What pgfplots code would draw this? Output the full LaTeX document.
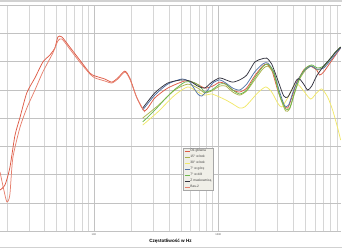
\documentclass[border=0pt]{standalone}
\usepackage{fontspec}
\setmainfont{Liberation Sans}
\usepackage{pgfplots}
\pgfplotsset{compat=1.18}
\definecolor{cRed}{HTML}{DE5A45}
\definecolor{cBas}{HTML}{E6806E}
\definecolor{cOlive}{HTML}{A9B24C}
\definecolor{cYel}{HTML}{F1E86A}
\definecolor{cBlue}{HTML}{5373A6}
\definecolor{cGreen}{HTML}{6DB84E}
\definecolor{cBlack}{HTML}{33333F}
\definecolor{legbg}{HTML}{F0EFE8}
\begin{document}
\begin{tikzpicture}
\begin{axis}[
  scale only axis, width=341pt, height=226pt,
  xmode=log, xmin=17.6, xmax=9700, ymin=0, ymax=80,
  ytick={0,10,...,80}, yticklabels={},
  xtick={100,1000,10000}, xticklabels={100,1000,10000},
  minor xtick={20,30,40,50,60,70,80,90,200,300,400,500,600,700,800,900,2000,3000,4000,5000,6000,7000,8000,9000},
  grid=both,
  major grid style={draw=black!24, line width=0.5pt},
  minor grid style={draw=black!16, line width=0.5pt},
  axis line style={draw=none}, tick style={draw=none},
  xticklabel style={font=\fontsize{2.6}{3}\selectfont, text=black!70, yshift=1pt},
  xlabel={\textbf{Częstotliwość w Hz}},
  xlabel style={font=\fontsize{4.6}{5}\selectfont, at={(axis description cs:0.5,0)}, anchor=center, yshift=-10pt},
  every axis plot/.append style={smooth, tension=0.4, line width=0.75pt, no marks},
  legend cell align=left,
  legend image code/.code={\draw[#1] (0pt,0pt) -- (5pt,0pt);},
  legend style={at={(0.537,0.367)}, anchor=north west, fill=legbg, draw=black!35, line width=0.4pt,
    font=\fontsize{3.3}{3.5}\selectfont, text=black!75, inner sep=0.8pt, row sep=1.9pt,
    nodes={inner sep=0.5pt, text height=2.4pt, text depth=0.7pt}},
]
% Os glowna
\addplot[cRed] coordinates {
(17.6,14.5) (19.3,16.3) (21.1,22.3) (23.2,33.8) (25.4,40.0) (28.9,48.9) (33.6,54.2) (38.9,59.8)
(44.3,62.3) (48.6,64.8) (51.4,68.7) (55.3,68.7) (64.1,65.1) (77.1,60.5) (92.9,55.9) (101.9,54.9)
(122.5,53.8) (139.4,52.7) (155.9,54.2) (177.4,56.6) (194.5,54.2) (222,47.1) (256.6,42.5)
(308.8,47.1) (392.8,50.6) (538,53.1) (647,52.4) (779,50.6) (903,51.3) (1027,52.7) (1148,52.0)
(1306,49.9) (1487,49.2) (1694,50.6) (1963,54.9) (2275,58.4) (2450,59.1) (2690,57.0) (3005,49.9)
(3357,44.6) (3614,43.5) (3892,47.1) (4267,52.7) (4511,54.5) (4859,57.0) (5430,58.4) (6181,57.0)
(6536,55.2) (7040,56.3) (8015,59.8) (8789,62.3) (9639,64.8)};
\addlegendentry{Oś główna}
% 15 w bok
\addplot[cOlive] coordinates {
(247,40.0) (326,44.3) (447,49.9) (569,52.0) (684,50.6) (779,48.9) (888,49.6) (1027,51.3) (1148,51.3)
(1306,49.2) (1487,48.1) (1694,49.6) (1963,53.5) (2275,57.3) (2496,58.4) (2790,55.6) (3117,47.8)
(3481,42.5) (3751,43.2) (4115,48.9) (4511,53.8) (5044,57.0) (5636,58.4) (6296,57.0) (7040,58.1)
(8015,61.2) (8789,63.4) (9639,65.1)};
\addlegendentry{15° w bok}
% 30 w bok
\addplot[cYel] coordinates {
(247,37.5) (326,42.1) (447,48.1) (569,51.0) (684,49.2) (779,48.1) (888,48.5) (1027,47.4) (1148,46.4)
(1306,45.0) (1487,43.5) (1632,43.9) (1790,45.7) (2075,48.9) (2405,51.0) (2690,49.2) (3005,45.3)
(3236,43.9) (3614,47.1) (4040,51.3) (4350,52.0) (4859,49.6) (5530,46.7) (6181,48.9) (6800,50.3)
(7574,47.4) (8308,42.8) (9114,36.5) (9639,32.2)};
\addlegendentry{30° w bok}
% 7 w gore
\addplot[cBlue] coordinates {
(247,42.8) (309,48.1) (393,52.0) (509,53.8) (590,52.7) (684,48.5) (737,47.8) (823,49.9) (903,52.4)
(1027,53.5) (1148,52.4) (1306,50.6) (1487,49.9) (1694,52.0) (1963,56.3) (2275,59.1) (2496,59.5)
(2790,56.3) (3117,49.2) (3420,44.3) (3682,44.6) (4040,49.9) (4511,54.5) (5044,57.3) (5636,58.4)
(6181,57.3) (7040,57.7) (8015,60.5) (8789,62.7) (9639,64.8)};
\addlegendentry{7° w górę}
% 7 w dol
\addplot[cGreen] coordinates {
(247,38.6) (309,42.8) (423,49.2) (538,52.7) (624,52.7) (710,51.3) (779,49.2) (888,49.9) (1027,52.0)
(1148,52.0) (1306,49.9) (1487,48.5) (1694,49.9) (1963,54.2) (2275,58.1) (2496,59.1) (2790,56.3)
(3117,48.1) (3481,43.2) (3751,43.5) (4115,49.2) (4511,54.2) (5044,57.7) (5636,58.8) (6296,57.7)
(7040,58.4) (8015,61.2) (8789,63.4) (9639,65.1)};
\addlegendentry{7° w dół}
% Z maskownica
\addplot[cBlack] coordinates {
(247,43.5) (309,48.9) (393,52.4) (509,53.5) (590,53.1) (684,51.3) (779,50.6) (888,52.7) (1027,54.2)
(1148,53.5) (1306,52.7) (1487,53.5) (1694,55.2) (1963,59.8) (2234,60.9) (2450,61.2) (2690,59.1)
(3005,53.5) (3357,47.8) (3614,47.4) (3892,49.9) (4267,53.5) (4511,53.8) (4859,52.0) (5233,49.9)
(5636,51.3) (6181,54.9) (7040,58.4) (8015,61.2) (8789,63.4) (9639,65.1)};
\addlegendentry{Z maskownicą}
% Bas-2
\addplot[cBas] coordinates {
(17.6,20.9) (18.9,14.5) (20,10.3) (21.1,12.7) (22.3,25.8) (25.4,36.5) (28.9,43.5) (33.6,49.9)
(38.9,56.3) (46.8,63.0) (51.4,67.3) (55.3,68.0) (64.1,64.4) (77.1,59.8) (92.9,55.6) (101.9,54.2)
(122.5,53.1) (139.4,52.4) (155.9,53.8) (177.4,56.3) (194.5,53.8) (222,47.1) (256.6,42.1)};
\addlegendentry{Bas-2}
\end{axis}
\pgfresetboundingbox
\path[use as bounding box] (0,-18pt) rectangle (342pt,231pt);
\draw[black!18, line width=1.6pt] (0,230.2pt) -- (342pt,230.2pt);
\draw[black!18, line width=0.8pt] (0,-16pt) -- (342pt,-16pt);
\end{tikzpicture}
\end{document}
